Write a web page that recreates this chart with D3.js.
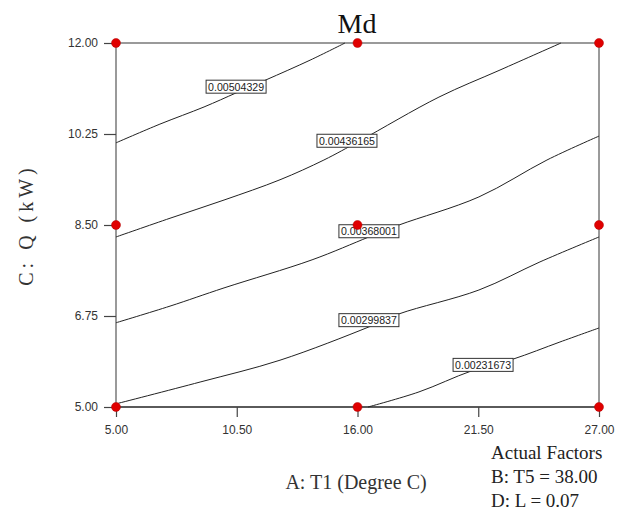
<!DOCTYPE html>
<html>
<head>
<meta charset="utf-8">
<script src="https://cdn.jsdelivr.net/npm/d3@7"></script>
<style>
  html, body { margin: 0; padding: 0; background: #fff; }
  svg { display: block; }
</style>
</head>
<body>
<div id="chart"></div>
<script>
// axis ticks
const xTicks = [5, 10.5, 16, 21.5, 27];
const yTicks = [5, 6.75, 8.5, 10.25, 12];

// design points (A: T1, C: Q)
const designPoints = [
  [5, 12], [16, 12], [27, 12],
  [5, 8.5], [16, 8.5], [27, 8.5],
  [5, 5], [16, 5], [27, 5]
];

// contour levels and their traced paths [A, Q]
const contourLevels = ['0.00504329', '0.00436165', '0.00368001', '0.00299837', '0.00231673'];
const contour1 = [[5, 10.08], [7.0, 10.44], [9.01, 10.77], [10.47, 11.04], [11.83, 11.29], [13.84, 11.67], [15.43, 12]];
const contour2 = [[5, 8.27], [7.46, 8.63], [9.92, 8.98], [12.47, 9.37], [14.47, 9.75], [16.11, 10.12], [19.71, 10.96], [22.49, 11.48], [25.27, 12]];
const contour3 = [[5, 6.62], [7.46, 6.94], [9.92, 7.29], [13.93, 7.83], [16.52, 8.27], [17.89, 8.5], [21.53, 9.04], [24.63, 9.75], [27, 10.21]];
const contour4 = [[5, 5.06], [8.83, 5.48], [12.47, 5.9], [16.52, 6.54], [17.89, 6.79], [21.53, 7.25], [24.31, 7.79], [27, 8.27]];
const contour5 = [[16.48, 5], [18.8, 5.29], [21.17, 5.69], [23.08, 5.92], [25.22, 6.25], [27, 6.52]];
const contourPaths = [contour1, contour2, contour3, contour4, contour5];

// where each contour label sits [A, Q]
const labelSpots = [[10.47, 11.16], [15.52, 10.12], [16.52, 8.38], [16.52, 6.67], [21.72, 5.81]];

const width = 629;
const height = 511;
const margin = { top: 43, right: 30, bottom: 104, left: 116 };

const svg = d3.select('#chart')
  .append('svg')
  .attr('width', width)
  .attr('height', height);

const x = d3.scaleLinear()
  .domain([5, 27])
  .range([margin.left, width - margin.right - 0]);

const y = d3.scaleLinear()
  .domain([5, 12])
  .range([height - margin.bottom, margin.top]);

const serif = '"Liberation Serif", "Times New Roman", serif';
const sans = '"Liberation Sans", Arial, sans-serif';

// title
svg.append('text')
  .attr('x', 357)
  .attr('y', 33)
  .attr('text-anchor', 'middle')
  .style('font-family', serif)
  .style('font-size', '28px')
  .attr('fill', '#111')
  .text('Md');

// frame
svg.append('rect')
  .attr('x', x(5))
  .attr('y', y(12))
  .attr('width', x(27) - x(5))
  .attr('height', y(5) - y(12))
  .attr('fill', 'none')
  .attr('stroke', '#7a7a7a')
  .attr('stroke-width', 1.5);

// axes
const xAxis = d3.axisBottom(x)
  .tickValues(xTicks)
  .tickFormat(d3.format('.2f'))
  .tickSizeOuter(0)
  .tickSize(10)
  .tickPadding(8);

const yAxis = d3.axisLeft(y)
  .tickValues(yTicks)
  .tickFormat(d3.format('.2f'))
  .tickSizeOuter(0)
  .tickSize(12)
  .tickPadding(6);

const gx = svg.append('g')
  .attr('transform', `translate(0,${y(5)})`)
  .call(xAxis);

const gy = svg.append('g')
  .attr('transform', `translate(${x(5)},0)`)
  .call(yAxis);

[gx, gy].forEach(g => {
  g.select('.domain').attr('stroke', '#444').attr('stroke-width', 1.5);
  g.selectAll('.tick line').attr('stroke', '#444').attr('stroke-width', 1.2);
  g.selectAll('.tick text')
    .attr('fill', '#333')
    .style('font-family', sans)
    .style('font-size', '12px');
});
gx.select('.domain').remove();
gy.select('.domain').remove();
svg.append('line')
  .attr('x1', x(5)).attr('x2', x(27))
  .attr('y1', y(5)).attr('y2', y(5))
  .attr('stroke', '#444').attr('stroke-width', 1.5);

// contour lines
const line = d3.line()
  .x(d => x(d[0]))
  .y(d => y(d[1]))
  .curve(d3.curveCatmullRom);

svg.append('g')
  .selectAll('path')
  .data(contourPaths)
  .join('path')
    .attr('d', line)
    .attr('fill', 'none')
    .attr('stroke', '#222')
    .attr('stroke-width', 1);

// contour labels
const labels = svg.append('g')
  .selectAll('g')
  .data(contourLevels)
  .join('g')
    .attr('transform', (d, i) => `translate(${x(labelSpots[i][0])},${y(labelSpots[i][1])})`);

labels.append('rect')
  .attr('x', -30)
  .attr('y', -6.5)
  .attr('width', 60)
  .attr('height', 13)
  .attr('fill', '#fff')
  .attr('stroke', '#333')
  .attr('stroke-width', 1);

labels.append('text')
  .attr('text-anchor', 'middle')
  .attr('y', 4)
  .attr('fill', '#222')
  .style('font-family', sans)
  .style('font-size', '10.5px')
  .attr('textLength', 56)
  .attr('lengthAdjust', 'spacingAndGlyphs')
  .text(d => d);

// design points
svg.append('g')
  .selectAll('circle')
  .data(designPoints)
  .join('circle')
    .attr('cx', d => x(d[0]))
    .attr('cy', d => y(d[1]))
    .attr('r', 4.5)
    .attr('fill', '#e00000')
    .attr('stroke', '#b00000')
    .attr('stroke-width', 0.5);

// axis titles
svg.append('text')
  .attr('x', 356)
  .attr('y', 489)
  .attr('text-anchor', 'middle')
  .style('font-family', serif)
  .style('font-size', '20px')
  .attr('fill', '#333')
  .text('A: T1 (Degree C)');

svg.append('text')
  .attr('transform', 'translate(33,225) rotate(-90)')
  .attr('text-anchor', 'middle')
  .style('font-family', serif)
  .style('font-size', '20px')
  .style('letter-spacing', '4px')
  .attr('fill', '#333')
  .text('C: Q (kW)');

// actual factors
const factorLines = ['Actual Factors', 'B: T5 = 38.00', 'D: L = 0.07'];
svg.append('g')
  .selectAll('text')
  .data(factorLines)
  .join('text')
    .attr('x', 491)
    .attr('y', (d, i) => 459 + i * 24)
    .style('font-family', serif)
    .style('font-size', '19px')
    .attr('fill', '#222')
    .text(d => d);
</script>
</body>
</html>
